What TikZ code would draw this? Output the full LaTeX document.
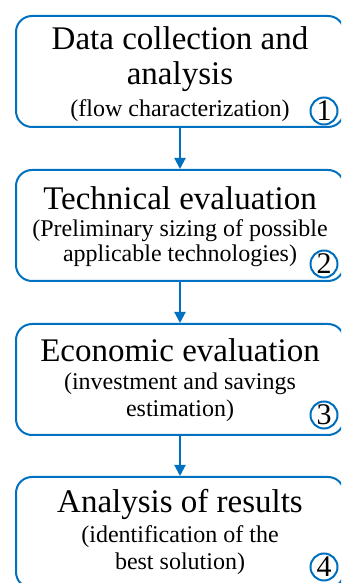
\documentclass[tikz,border=0pt]{standalone}
\usepackage{fontspec}
\setmainfont{Liberation Serif}
\usetikzlibrary{arrows.meta}
\definecolor{flowblue}{RGB}{0,112,192}
\begin{document}
\begin{tikzpicture}[x=1pt,y=1pt,
  box/.style={draw=flowblue, line width=2pt, rounded corners=16pt, minimum width=328pt, minimum height=111pt, inner sep=0pt},
  big/.style={font=\fontsize{33}{36}\selectfont, anchor=base, inner sep=0pt},
  small/.style={font=\fontsize{24}{28}\selectfont, anchor=base, inner sep=0pt},
  num/.style={circle, draw=flowblue, line width=2pt, fill=white, minimum size=27pt, inner sep=0pt, font=\fontsize{30}{30}\selectfont},
  flow/.style={draw=flowblue, line width=2pt, -{Triangle[length=11pt,width=11pt]}}]
\useasboundingbox (0,0) rectangle (341,583);
\clip (0,0) rectangle (341,583);
\node[box] (b1) at (180,511.5) {};
\node[box] (b2) at (180,357.5) {};
\node[box] (b3) at (180,203.5) {};
\node[box] (b4) at (180,50.5) {};
\node[big] (t1a) at (180,533) {Data collection and};
\node[big] (t1b) at (180,498) {analysis};
\node[small] (t1c) at (180,466) {(flow characterization)};
\node[big] (t2a) at (180,373) {Technical evaluation};
\node[small] (t2b) at (180,346) {(Preliminary sizing of possible};
\node[small] (t2c) at (180,321) {applicable technologies)};
\node[big] (t3a) at (180,221) {Economic evaluation};
\node[small] (t3b) at (180,193) {(investment and savings};
\node[small] (t3c) at (180,166) {estimation)};
\node[big] (t4a) at (180,70) {Analysis of results};
\node[small] (t4b) at (180,40) {(identification of the};
\node[small] (t4c) at (180,13) {best solution)};
\node[num] (n1) at (324,472) {1};
\node[num] (n2) at (324,319) {2};
\node[num] (n3) at (324,168) {3};
\node[num] (n4) at (324,16) {4};
\draw[flow] (b1.south) -- (b2.north);
\draw[flow] (b2.south) -- (b3.north);
\draw[flow] (b3.south) -- (b4.north);
\end{tikzpicture}
\end{document}
